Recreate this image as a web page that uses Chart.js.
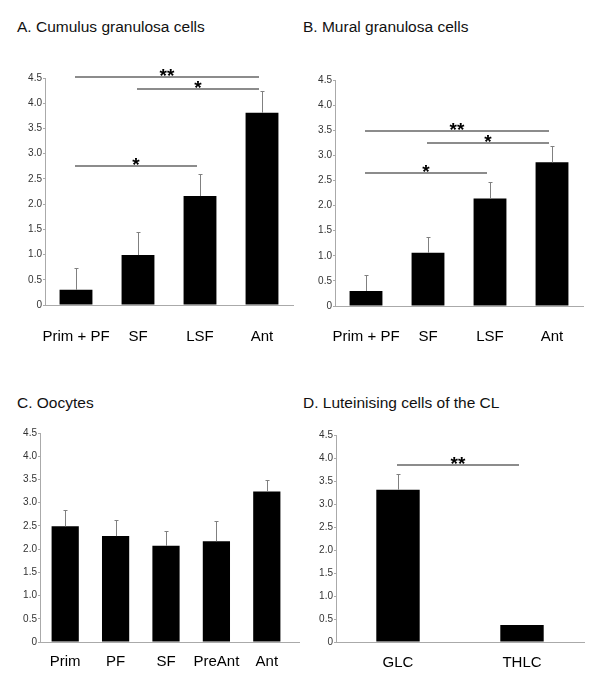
<!DOCTYPE html>
<html>
<head>
<meta charset="utf-8">
<script src="https://cdn.jsdelivr.net/npm/chart.js@4/dist/chart.umd.min.js"></script>
<style>
  body { margin: 0; background: #fff; font-family: Arial, "Liberation Sans", sans-serif; }
  #page { position: relative; width: 600px; height: 682px; }
  .ttl { position: absolute; font-size: 15.5px; line-height: 18px; color: #111; white-space: nowrap; }
  .box { position: absolute; }
</style>
</head>
<body>
<div id="page">
  <div class="ttl" style="left:17px;top:18px">A. Cumulus granulosa cells</div>
  <div class="ttl" style="left:303px;top:18px">B. Mural granulosa cells</div>
  <div class="ttl" style="left:17px;top:394px">C. Oocytes</div>
  <div class="ttl" style="left:303px;top:394px">D. Luteinising cells of the CL</div>

  <div class="box" style="left:0;top:60px"><canvas id="chartA" width="300" height="290"></canvas></div>
  <div class="box" style="left:300px;top:60px"><canvas id="chartB" width="300" height="290"></canvas></div>
  <div class="box" style="left:0;top:420px"><canvas id="chartC" width="300" height="262"></canvas></div>
  <div class="box" style="left:300px;top:420px"><canvas id="chartD" width="300" height="262"></canvas></div>
</div>

<script>
// values (bar height and + error)
const catsA = ['Prim + PF', 'SF', 'LSF', 'Ant']
const meanA = [0.3, 0.99, 2.16, 3.81]
const errA = [0.44, 0.45, 0.44, 0.44]
const sigA = [
  { from: 0, to: 3, y: 4.52, txt: '**' },
  { from: 1, to: 3, y: 4.29, txt: '*' },
  { from: 0, to: 2, y: 2.75, txt: '*' }
]

const catsB = ['Prim + PF', 'SF', 'LSF', 'Ant']
const meanB = [0.3, 1.06, 2.14, 2.86]
const errB = [0.31, 0.32, 0.32, 0.33]
const sigB = [
  { from: 0, to: 3, y: 3.49, txt: '**' },
  { from: 1, to: 3, y: 3.25, txt: '*' },
  { from: 0, to: 2, y: 2.64, txt: '*' }
]

const catsC = ['Prim', 'PF', 'SF', 'PreAnt', 'Ant']
const meanC = [2.49, 2.28, 2.07, 2.17, 3.24]
const errC = [0.35, 0.35, 0.32, 0.44, 0.25]
const sigC = []

const catsD = ['GLC', 'THLC']
const meanD = [3.31, 0.37]
const errD = [0.34, 0]
const sigD = [{ from: 0, to: 1, y: 3.85, txt: '**' }]

const yTicks = { min: 0, max: 4.5, step: 0.5 }

Chart.defaults.font.family = 'Arial, "Liberation Sans", sans-serif'

// error bars + significance bars
const makeExtras = (mean, err, sig, ext) => ({
  id: 'extras',
  afterDatasetsDraw(chart) {
    let ctx = chart.ctx
    let x = chart.scales.x
    let y = chart.scales.y
    ctx.save()
    ctx.strokeStyle = '#808080'
    ctx.lineWidth = 1
    err.forEach((e, i) => {
      if (!e) return
      let cx = Math.round(x.getPixelForValue(i)) + 0.5
      let y0 = y.getPixelForValue(mean[i])
      let y1 = Math.round(y.getPixelForValue(mean[i] + e)) + 0.5
      ctx.beginPath()
      ctx.moveTo(cx, y0)
      ctx.lineTo(cx, y1)
      ctx.moveTo(cx - 2, y1)
      ctx.lineTo(cx + 2, y1)
      ctx.stroke()
    })

    ctx.strokeStyle = '#666'
    ctx.lineWidth = 1.4
    ctx.fillStyle = '#000'
    ctx.font = 'bold 19px Arial, "Liberation Sans", sans-serif'
    ctx.textAlign = 'center'
    ctx.textBaseline = 'alphabetic'
    sig.forEach(s => {
      let x0 = x.getPixelForValue(s.from) - 1
      let x1 = x.getPixelForValue(s.to) - 3
      let ly = Math.round(y.getPixelForValue(s.y))
      ctx.beginPath()
      ctx.moveTo(x0, ly)
      ctx.lineTo(x1, ly)
      ctx.stroke()
      ctx.fillText(s.txt, (x0 + x1) / 2, ly + 5)
    })

    if (ext) {
      let b = Math.round(chart.chartArea.bottom) + 0.5
      ctx.strokeStyle = '#aaa'
      ctx.lineWidth = 1
      ctx.beginPath()
      ctx.moveTo(chart.chartArea.right, b)
      ctx.lineTo(chart.chartArea.right + ext, b)
      ctx.stroke()
    }
    ctx.restore()
  }
})

const makeChart = (id, cats, mean, err, sig, box) => {
  return new Chart(id, {
    type: 'bar',
    data: {
      labels: cats,
      datasets: [
        {
          data: mean,
          backgroundColor: '#000',
          borderWidth: 0,
          categoryPercentage: 1,
          barPercentage: box.bar
        }
      ]
    },
    options: {
      responsive: false,
      animation: false,
      layout: { padding: { top: box.top, right: box.right, left: 0, bottom: 0 } },
      plugins: { legend: { display: false }, tooltip: { enabled: false } },
      scales: {
        x: {
          grid: { display: false, drawTicks: false },
          border: { display: true, color: '#aaa' },
          ticks: { color: '#000', font: { size: 15 }, padding: box.lblPad, maxRotation: 0, autoSkip: false },
          afterFit: s => { s.height = box.xh }
        },
        y: {
          min: yTicks.min,
          max: yTicks.max,
          ticks: {
            stepSize: yTicks.step,
            color: '#333',
            font: { size: 10 },
            padding: 1,
            callback: v => (v === 0 ? '0' : v.toFixed(1))
          },
          grid: { drawOnChartArea: false, tickLength: 2, color: '#aaa' },
          border: { display: true, color: '#aaa' },
          afterFit: s => { s.width = box.yw }
        }
      }
    },
    plugins: [makeExtras(mean, err, sig, box.ext)]
  })
}

makeChart('chartA', catsA, meanA, errA, sigA, { top: 18, right: 7, yw: 45, xh: 45, lblPad: 23, bar: 0.53 })
makeChart('chartB', catsB, meanB, errB, sigB, { top: 20, right: 17, yw: 35, xh: 44, lblPad: 22, bar: 0.53 })
makeChart('chartC', catsC, meanC, errC, sigC, { top: 13, right: 8, yw: 40, xh: 40, lblPad: 11, bar: 0.54, ext: 18 })
makeChart('chartD', catsD, meanD, errD, sigD, { top: 15, right: 16, yw: 36, xh: 40, lblPad: 12, bar: 0.35 })
</script>
</body>
</html>
